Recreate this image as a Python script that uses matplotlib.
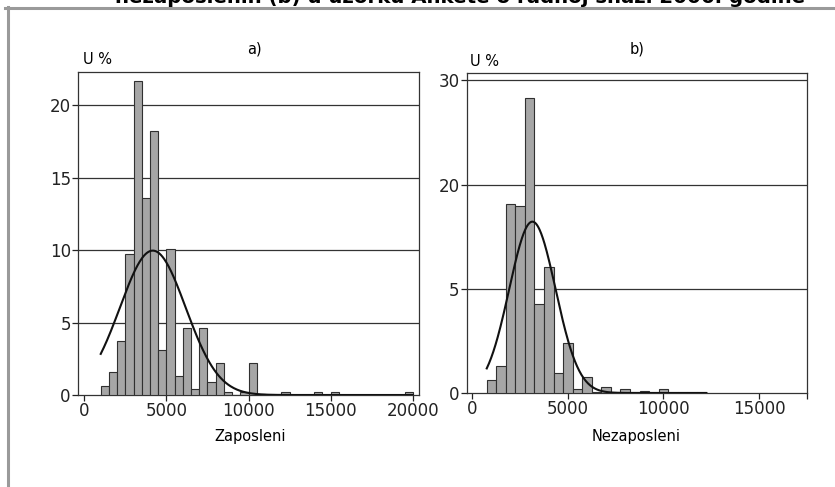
import matplotlib
matplotlib.use("Agg")
import matplotlib.pyplot as plt
import numpy as np
from matplotlib.lines import Line2D

# histogram data, share of sample in % per 500-unit bin
bin_width = 500
zap_start = 1000
zap_pct = [0.62, 1.56, 3.73, 9.71, 21.7, 13.6, 18.2, 3.1, 10.08, 1.29,
           4.6, 0.44, 4.6, 0.9, 2.19, 0.18, 0.0, 0.18, 2.2, 0.05,
           0.0, 0.0, 0.18, 0.0, 0.0, 0.0, 0.18, 0.0, 0.18, 0.0,
           0.0, 0.0, 0.0, 0.0, 0.0, 0.0, 0.0, 0.18]
nez_start = 750
nez_pct = [1.25, 2.56, 18.14, 17.95, 28.3, 8.54, 12.12, 1.92, 4.83, 0.35,
           1.5, 0.12, 0.55, 0.08, 0.4, 0.06, 0.18, 0.05, 0.42, 0.05,
           0.05, 0.05, 0.1]

# fitted normal curves (mean, sd)
zap_mu, zap_sd = 4170, 2000
nez_mu, nez_sd = 3140, 1213

title = "nezaposlenih (b) u uzorku Ankete o radnoj snazi 2006. godine"

fig = plt.figure(figsize=(8.35, 4.87), dpi=100)
plt.rcParams['font.family'] = ['DejaVu Sans']

bar_fc = '#a6a6a6'
bar_ec = '#303030'


def normal_curve(x, mu, sd):
    return 100 * bin_width * np.exp(-(x - mu) ** 2 / (2 * sd ** 2)) / (sd * np.sqrt(2 * np.pi))


def draw_panel(ax, start, pct, mu, sd, xlim, ylim, yticks, ylabels, xticks, xlabels):
    edges = start + bin_width * np.arange(len(pct))
    ax.bar(edges, pct, width=bin_width, align='edge', color=bar_fc,
           edgecolor=bar_ec, linewidth=0.8, zorder=3)
    xs = np.linspace(edges[0], edges[-1] + bin_width, 400)
    ax.plot(xs, normal_curve(xs, mu, sd), color='#111111', lw=1.5, zorder=4)
    ax.set_xlim(xlim)
    ax.set_ylim(ylim)
    ax.set_yticks(yticks)
    ax.set_yticklabels(ylabels)
    ax.set_xticks(xticks)
    ax.set_xticklabels(xlabels)
    for y in yticks[1:]:
        ax.axhline(y, color='#333333', lw=0.9, zorder=1)
    for s in ax.spines.values():
        s.set_color('#333333')
        s.set_linewidth(0.9)
    ax.tick_params(length=4, width=0.9, pad=1, labelsize=12, colors='#222222')


ax1 = fig.add_axes([0.0931, 0.1889, 0.4091, 0.6639])
draw_panel(ax1, zap_start, zap_pct, zap_mu, zap_sd, (-400, 20400), (0, 22.33),
           [0, 5, 10, 15, 20], ['0', '5', '10', '15', '20'],
           [0, 5000, 10000, 15000, 20000], ['0', '5000', '10000', '15000', '20000'])

ax2 = fig.add_axes([0.5589, 0.1930, 0.4072, 0.6565])
draw_panel(ax2, nez_start, nez_pct, nez_mu, nez_sd, (-300, 17500), (0, 30.68),
           [0, 10, 20, 30], ['0', '5', '20', '30'],
           [0, 5000, 10000, 15000, 17500], ['0', '5000', '10000', '15000', ''])

# texts around the panels
fig.text(83 / 835, 1 - 59 / 487, 'U %', fontsize=10.5, va='center', ha='left')
fig.text(470 / 835, 1 - 61 / 487, 'U %', fontsize=10.5, va='center', ha='left')
fig.text(254 / 835, 1 - 48.5 / 487, 'a)', fontsize=10.5, va='center', ha='center')
fig.text(637 / 835, 1 - 48.5 / 487, 'b)', fontsize=10.5, va='center', ha='center')
fig.text(250 / 835, 1 - 437 / 487, 'Zaposleni', fontsize=10.5, va='center', ha='center')
fig.text(636 / 835, 1 - 437 / 487, 'Nezaposleni', fontsize=10.5, va='center', ha='center')

# title cut at the top edge, as in the source page, and gray frame lines
fig.text(460 / 835, 1 - 3 / 487, title, fontsize=14.2, fontweight='bold',
         ha='center', va='baseline')
fig.add_artist(Line2D([5 / 835, 1], [1 - 7.5 / 487, 1 - 7.5 / 487],
                      transform=fig.transFigure, color='#9a9a9a', lw=2.2))
fig.add_artist(Line2D([8 / 835, 8 / 835], [1 - 6.5 / 487, 0],
                      transform=fig.transFigure, color='#9a9a9a', lw=2.2))

fig.savefig('out.png', dpi=100)
